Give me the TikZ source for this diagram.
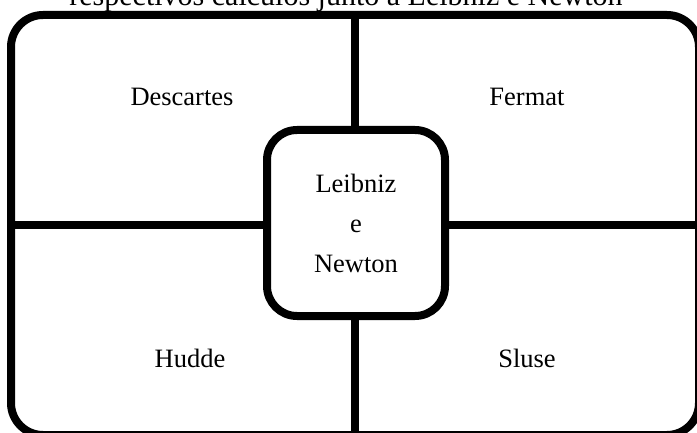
\documentclass[tikz,border=0pt]{standalone}
\usepackage{fontspec}
\setmainfont{Liberation Serif}
\begin{document}
\begin{tikzpicture}[x=1pt,y=-1pt,
  frame/.style={line width=8pt,rounded corners=32pt},
  divider/.style={line width=8pt},
  centerbox/.style={draw,line width=8pt,rounded corners=30pt,fill=white,
    minimum width=178pt,minimum height=186pt,align=center,
    font=\fontsize{26.5}{40}\selectfont},
  lbl/.style={font=\fontsize{26.5}{32}\selectfont}]
\useasboundingbox (0,0) rectangle (697,433);
\clip (0,0) rectangle (697,433);
\node[font=\fontsize{30}{36}\selectfont,anchor=base] (title) at (346,6) {respectivos cálculos junto a Leibniz e Newton};
\coordinate (tl) at (11,15);
\coordinate (br) at (699,435);
\coordinate (ml) at (11,225);
\coordinate (mr) at (699,225);
\coordinate (mt) at (355,15);
\coordinate (mb) at (355,435);
\draw[frame] (tl) rectangle (br);
\draw[divider] (ml) -- (mr);
\draw[divider] (mt) -- (mb);
\node[centerbox] (ln) at (356,223) {Leibniz\\e\\Newton};
\node[lbl] (descartes) at (182,97) {Descartes};
\node[lbl] (fermat) at (527,97) {Fermat};
\node[lbl] (hudde) at (190,358) {Hudde};
\node[lbl] (sluse) at (527,358) {Sluse};
\end{tikzpicture}
\end{document}
